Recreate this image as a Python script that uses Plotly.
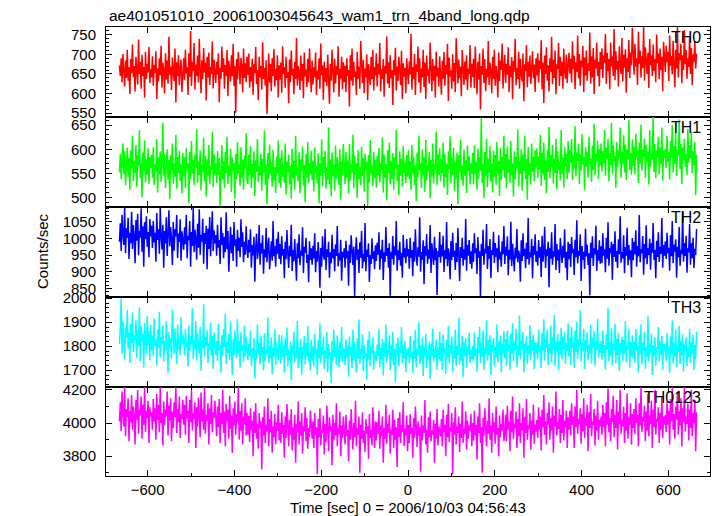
import numpy as np
import plotly.graph_objects as go
from plotly.subplots import make_subplots

TITLE = "ae401051010_20061003045643_wam1_trn_4band_long.qdp"
X_TITLE = "Time [sec] 0 = 2006/10/03 04:56:43"
Y_TITLE = "Counts/sec"
band_names = ["TH0", "TH1", "TH2", "TH3", "TH0123"]
colors = ["#ff0000", "#00ff00", "#0000ff", "#00ffff", "#ff00ff"]
t_first, t_last = -665, 665

th0 = [
672,645,690,628,701,655,618,684,640,712,633,667,598,688,652,725,641,670,605,694,660,623,738,650,681,612,699,645,668,590,707,638,676,654,719,627,662,
641,695,620,673,652,708,586,664,631,690,647,722,615,679,658,600,703,636,684,625,745,648,669,609,692,655,632,715,577,680,644,698,621,663,687,604,676,
690,634,712,651,668,596,703,642,760,619,681,657,729,610,674,645,697,628,740,662,601,685,637,716,654,679,582,694,641,705,622,668,650,733,613,686,659,
627,681,649,702,578,666,638,720,655,690,612,673,645,711,593,684,660,630,698,644,727,619,670,551,688,636,706,652,624,691,668,603,715,640,677,629,694,
648,702,615,668,631,689,597,675,652,719,624,660,583,694,641,670,610,731,637,666,620,685,548,659,702,628,676,605,690,645,714,618,663,634,698,590,672,
636,679,602,721,650,668,615,694,640,655,575,687,629,710,646,663,598,681,637,742,620,670,652,609,697,633,676,588,705,644,661,617,689,628,715,651,603,
684,623,667,641,705,597,658,636,690,612,728,647,672,584,681,630,665,619,699,642,574,676,633,712,655,603,689,626,670,648,721,592,663,638,694,611,680,
629,671,604,690,645,660,567,698,633,715,620,681,642,656,596,707,638,669,612,734,649,627,686,601,664,641,700,583,675,656,622,693,637,711,608,668,646,
703,618,676,649,729,605,662,637,688,592,671,651,746,626,680,614,698,639,660,571,685,647,717,608,669,632,694,655,621,709,586,677,643,665,601,690,658,
624,682,649,753,610,668,637,701,596,675,655,720,628,690,602,664,641,712,617,679,586,697,646,661,625,730,650,606,688,633,671,590,707,643,666,618,695,
661,597,684,638,706,620,673,649,727,581,692,644,659,612,700,631,678,603,741,655,626,687,640,669,593,711,647,622,682,636,698,609,664,650,724,615,676,
642,689,614,720,653,598,681,636,702,559,670,648,715,627,688,606,663,641,734,622,679,655,601,694,638,712,620,671,649,590,705,632,684,660,728,613,667,
699,627,676,648,718,603,670,642,693,586,684,656,740,621,665,637,707,612,689,650,631,702,580,675,658,724,616,681,643,697,625,662,708,639,674,604,690,
647,703,628,684,662,736,611,679,576,697,650,718,633,672,605,690,656,745,624,686,640,710,598,675,663,729,619,694,645,681,612,715,657,638,699,627,672,
704,651,689,628,733,662,697,611,680,655,748,639,701,620,684,667,722,604,692,646,710,633,677,658,756,625,695,641,716,599,687,664,730,645,681,618,706,
662,715,640,697,678,752,625,704,657,688,611,730,669,695,645,765,634,708,661,683,618,721,674,650,742,631,699,666,713,602,690,655,737,640,705,672,768,
701,648,727,669,690,622,758,676,710,641,695,665,770,633,718,682,650,704,614,739,672,697,645,725,658,688,629,751,677,702,637,715,660,694,606,732,683,
655,722,680,707,632,748,671,696,649,735,690,616,712,664,770,641,703,685,727,626,698,660,762,675,711,638,690,668,745,650,716,621,700,681,733,664,702,
]
th1 = [
552,590,538,577,612,549,596,525,570,603,543,582,515,598,560,628,534,575,551,609,522,587,566,640,540,571,500,593,555,618,531,579,547,602,528,584,561,
588,541,604,526,569,553,621,510,583,548,596,532,574,655,545,590,519,566,600,537,578,496,588,557,612,529,571,543,630,518,584,550,597,534,569,508,592,
545,583,520,602,556,571,488,594,538,617,549,577,526,589,562,641,530,575,547,598,515,568,553,624,533,586,502,579,544,609,527,566,558,636,521,590,548,
571,530,597,546,582,482,563,609,537,575,519,594,550,626,528,566,544,601,511,583,556,572,497,590,538,615,549,568,524,604,541,579,516,587,560,633,535,
528,589,547,606,519,570,541,596,503,577,553,621,532,564,545,590,514,580,551,639,526,569,485,592,538,610,548,573,522,599,535,563,509,585,550,618,530,
581,520,598,543,567,530,612,506,574,552,589,527,565,497,601,540,576,516,628,546,562,533,594,508,579,555,606,524,568,490,590,541,615,529,571,548,597,
536,575,512,604,548,566,529,592,488,571,545,620,523,584,550,597,518,562,537,645,527,579,502,593,544,568,515,608,539,583,553,526,600,495,574,546,611,
564,528,594,541,577,508,611,535,569,552,630,519,587,546,572,499,598,538,563,525,605,544,581,512,591,557,574,482,588,531,619,549,566,523,595,540,578,
520,586,546,603,531,572,557,625,510,589,541,569,494,598,550,614,527,575,539,592,516,583,560,640,534,568,505,596,545,580,522,607,551,573,530,588,543,
598,538,575,515,609,549,584,526,566,492,593,542,628,557,571,520,600,546,583,511,619,535,567,553,594,498,578,544,612,529,570,558,637,525,589,547,602,
533,579,551,614,520,590,542,570,505,596,558,627,530,581,547,603,514,574,539,593,486,588,552,619,536,566,524,599,545,577,509,608,555,585,527,571,549,
592,527,608,548,574,516,601,539,583,555,665,530,569,498,594,545,622,521,580,551,606,533,571,510,597,543,588,526,615,549,576,503,603,537,584,557,628,
541,590,519,606,552,579,530,617,547,571,502,596,537,584,560,641,523,576,549,600,514,589,555,628,538,580,495,605,546,571,527,612,553,585,533,598,562,
602,541,585,559,630,524,593,548,614,536,577,508,599,553,646,540,588,562,609,529,580,551,622,517,596,557,574,535,640,549,583,520,605,564,590,538,617,
550,598,572,621,536,587,560,648,544,593,575,612,528,589,556,631,569,584,515,604,563,595,541,626,570,581,532,607,557,653,546,590,574,618,538,600,566,
612,554,596,571,640,545,603,580,622,533,591,567,655,549,608,575,586,520,615,562,599,583,645,541,594,570,629,552,610,536,600,578,660,557,592,547,620,
566,605,548,632,583,597,530,614,570,651,556,600,585,622,541,609,574,595,527,640,562,590,579,667,553,611,540,598,584,626,548,603,569,645,535,598,582,
600,561,628,575,594,537,617,583,650,552,606,570,634,544,598,587,662,559,611,528,604,577,622,563,590,546,642,572,608,581,637,550,596,567,615,505,588,
]
th2 = [
990,1045,962,1071,1012,980,1094,955,1030,1001,1062,938,1017,985,1080,968,1040,1008,925,1055,993,1074,949,1023,1002,1090,960,1036,915,1048,997,1066,975,1019,943,1058,1006,
1038,971,1052,988,1017,930,1076,995,1028,954,1094,1003,967,1041,912,1022,985,1063,947,1010,1084,976,1034,998,920,1049,963,1027,1006,1070,941,1015,989,1057,933,1021,1000,
966,1033,982,1071,940,1008,995,1052,915,1019,977,1094,958,1026,1001,936,1044,972,1087,951,1011,990,1059,924,1016,983,1038,907,1029,968,1064,946,1003,1081,961,1024,985,
1010,948,1041,972,995,923,1063,980,1016,940,1005,958,1078,967,1022,900,988,1035,955,1011,932,1049,977,997,915,1026,962,1002,943,1057,974,1018,928,990,951,1036,969,
941,996,958,1027,912,980,949,1005,870,973,1014,938,962,1040,921,985,955,1009,894,967,943,1031,928,978,1002,907,960,991,933,1052,946,976,915,999,954,1020,938,
983,922,1006,948,968,880,990,937,1025,955,911,978,946,1041,902,965,931,998,952,873,985,940,1012,919,963,948,1033,896,975,957,1002,926,951,868,991,935,970,
921,978,940,1015,898,962,930,989,946,852,971,915,1006,950,936,1028,905,967,944,990,882,958,925,1011,940,968,901,982,947,1037,916,955,934,996,873,960,942,
970,912,993,940,962,858,981,926,1009,947,920,975,826,958,1003,935,967,896,988,942,1022,910,953,930,1046,901,966,944,985,869,950,923,1000,938,961,907,979,
932,987,951,1018,906,966,940,996,875,958,929,1034,947,971,912,985,828,960,938,1007,921,976,949,1052,903,964,935,990,918,957,882,1011,943,970,925,998,946,
968,909,1002,941,965,886,990,930,1027,952,918,973,945,1063,900,959,936,994,862,977,948,1013,924,966,939,1040,896,985,952,920,1005,934,970,830,962,944,1019,
927,981,946,1008,899,964,938,1049,916,970,952,877,992,935,1017,944,963,905,986,929,1031,950,872,974,941,1002,918,967,936,1058,903,980,948,995,924,961,909,
985,930,1015,956,970,893,1004,941,961,827,983,947,1026,921,969,955,1043,908,977,939,998,881,964,950,1020,926,986,945,970,898,1009,937,960,915,991,952,1037,
923,975,948,1006,889,966,936,1050,917,984,955,901,972,940,1028,928,963,950,870,994,932,1015,946,969,910,987,938,1061,921,958,944,999,880,977,951,1012,929,
962,918,995,942,974,884,1008,930,956,1035,911,967,947,990,853,972,939,1018,921,961,945,1043,905,983,934,966,896,1001,950,926,978,942,1027,912,960,874,990,
937,983,914,1004,956,969,890,996,943,1054,925,962,948,1012,872,977,935,960,908,1029,946,981,920,955,829,987,941,1006,917,970,952,1038,903,965,933,994,924,
976,925,1015,948,967,898,1002,939,1048,918,971,955,990,876,983,944,1021,930,962,911,997,952,1066,927,959,940,1009,895,974,948,1032,919,980,936,964,883,1001,
934,990,952,1024,915,977,946,1070,928,968,956,1007,891,983,940,1039,922,971,950,999,906,986,957,1046,935,966,880,993,944,1018,929,975,953,1061,912,980,948,
991,938,1017,955,972,903,1009,946,1052,925,981,960,997,882,975,943,1034,918,966,952,1080,930,986,947,1008,897,970,958,1043,921,985,940,1002,911,969,950,1028,
]
th3 = [
1810,1875,2000,1768,1902,1820,1745,1880,1835,1950,1790,1857,1730,1893,1812,1940,1776,1848,1825,1910,1752,1866,1800,1962,1738,1883,1819,1851,1710,1897,1830,1771,1925,1806,1862,1742,1888,
1785,1846,1760,1915,1802,1829,1720,1868,1794,1943,1753,1838,1811,1886,1735,1822,1778,1905,1808,1690,1859,1790,1833,1748,1952,1815,1769,1874,1800,1727,1890,1786,1840,1762,1921,1807,1849,
1830,1762,1871,1795,1818,1715,1886,1779,1842,1810,1958,1748,1826,1788,1904,1740,1853,1804,1769,1880,1698,1822,1792,1975,1757,1837,1801,1866,1730,1814,1785,1898,1760,1845,1706,1858,1790,
1765,1822,1738,1893,1781,1806,1690,1845,1760,1872,1797,1935,1725,1815,1772,1850,1744,1903,1786,1680,1831,1763,1866,1797,1750,1912,1770,1820,1711,1858,1782,1804,1735,1884,1757,1839,1801,
1742,1809,1760,1865,1718,1790,1752,1834,1665,1781,1746,1890,1770,1812,1724,1846,1763,1797,1700,1855,1739,1786,1768,1920,1731,1801,1750,1837,1683,1794,1758,1871,1722,1815,1777,1740,1849,
1790,1727,1846,1754,1802,1690,1833,1761,1878,1715,1785,1742,1817,1657,1806,1766,1860,1733,1779,1750,1905,1708,1792,1745,1830,1681,1798,1763,1842,1724,1812,1756,1885,1737,1770,1699,1826,
1741,1800,1716,1851,1772,1789,1680,1826,1750,1896,1730,1794,1765,1838,1705,1781,1748,1860,1692,1808,1759,1774,1647,1822,1738,1870,1756,1798,1721,1845,1769,1712,1815,1745,1880,1733,1790,
1785,1721,1829,1752,1802,1673,1840,1763,1795,1709,1867,1740,1817,1756,1690,1833,1748,1911,1726,1788,1762,1850,1697,1805,1751,1772,1660,1826,1744,1862,1717,1799,1768,1836,1702,1780,1755,
1738,1807,1760,1873,1712,1792,1745,1830,1678,1815,1755,1890,1732,1784,1766,1846,1700,1803,1741,1859,1722,1790,1650,1812,1758,1835,1717,1796,1770,1881,1728,1806,1749,1822,1693,1787,1763,
1795,1730,1842,1751,1778,1689,1823,1746,1866,1711,1790,1762,1900,1725,1804,1741,1836,1676,1799,1757,1851,1708,1783,1744,1818,1663,1809,1760,1874,1734,1786,1753,1829,1701,1795,1747,1860,
1737,1811,1702,1848,1766,1790,1684,1827,1753,1885,1728,1806,1771,1839,1695,1782,1749,1870,1718,1801,1763,1918,1724,1792,1740,1844,1672,1815,1759,1833,1710,1798,1767,1856,1731,1784,1746,
1801,1736,1857,1759,1790,1694,1838,1772,1881,1729,1812,1755,1865,1701,1794,1768,1908,1740,1826,1762,1847,1680,1805,1777,1834,1715,1799,1753,1890,1733,1819,1761,1846,1690,1808,1770,1862,
1750,1829,1718,1866,1781,1805,1700,1852,1769,1896,1738,1817,1782,1873,1712,1800,1763,1928,1745,1822,1788,1859,1690,1811,1774,1840,1727,1803,1766,1887,1741,1826,1779,1848,1704,1815,1770,
1815,1746,1870,1776,1803,1708,1855,1783,1912,1740,1828,1794,1868,1722,1810,1770,1885,1732,1837,1786,1930,1716,1819,1779,1852,1700,1823,1765,1877,1745,1840,1789,1860,1726,1814,1781,1895,
1757,1836,1722,1880,1794,1817,1710,1864,1776,1901,1748,1829,1799,1950,1735,1812,1781,1873,1704,1825,1790,1858,1741,1806,1771,1889,1727,1834,1796,1863,1719,1820,1785,1914,1752,1809,1773,
1822,1744,1865,1771,1805,1703,1850,1787,1960,1738,1815,1760,1877,1720,1809,1782,1893,1729,1831,1764,1856,1697,1812,1775,1840,1740,1826,1768,1905,1733,1800,1785,1869,1710,1818,1757,1846,
1749,1818,1731,1872,1783,1800,1690,1846,1767,1890,1724,1813,1779,1861,1706,1795,1756,1925,1738,1808,1773,1852,1680,1804,1762,1838,1719,1796,1787,1880,1736,1821,1765,1843,1701,1809,1777,
1810,1739,1855,1764,1797,1688,1840,1770,1907,1728,1812,1758,1868,1712,1799,1775,1884,1726,1823,1763,1850,1695,1808,1781,1836,1718,1792,1754,1873,1730,1815,1769,1848,1700,1806,1745,1860,
]
th0123 = [
4010,4125,3950,4190,4060,3980,4218,3920,4085,4035,4150,3890,4070,4005,4170,3960,4100,4045,3870,4140,4020,4200,3935,4080,4050,4160,3905,4110,3990,4218,3945,4075,4030,4135,3880,4095,4040,
4065,3960,4145,4010,4090,3900,4175,4020,4110,3945,4218,4000,4060,3865,4130,3985,4080,4040,4190,3925,4105,4015,4150,3890,4070,3970,4125,4035,4218,3940,4085,4005,4160,3910,4055,4025,4140,
3990,4110,3930,4165,4030,4075,3880,4140,4005,4200,3955,4060,4025,4125,3850,4095,3980,4155,4040,3915,4185,4010,4080,3960,4218,3935,4050,4015,4120,3870,4090,3995,4170,3945,4065,4030,4135,
4035,3920,4100,3975,4145,3880,4060,3995,4200,3940,4070,3860,4115,4010,4080,3905,4165,3965,4045,3820,4090,3985,4130,3930,4055,4005,4218,3900,4075,3955,4120,3870,4040,3990,4150,3925,4060,
3930,4045,3885,4090,3960,4015,3800,4070,3940,4120,3905,3995,3845,4060,3970,4010,3720,4035,3925,4100,3880,3990,3950,4150,3860,4025,3945,4075,3820,3980,3915,4055,3870,4005,3955,4110,3895,
4000,3880,4065,3935,3990,3790,4040,3910,4115,3955,3860,4020,3930,4085,3835,3975,3900,4050,3760,3995,3945,4130,3870,4010,3925,4060,3815,3980,3950,4095,3890,4030,3845,3970,3915,4075,3940,
3905,4010,3850,4060,3930,3975,3690,4025,3915,4090,3865,3960,3940,4045,3810,3995,3885,4105,3920,3830,4035,3955,3980,3745,4050,3895,4000,3925,4120,3860,3970,3935,4070,3800,3985,3910,4040,
3980,3870,4050,3920,3960,3770,4015,3900,4085,3945,3840,4000,3915,4135,3860,3970,3930,4040,3700,3990,3905,4065,3880,3955,3825,4025,3935,3980,3785,4055,3910,3960,3865,4095,3925,3850,4010,
3895,4005,3935,4075,3845,3985,3920,4040,3760,3970,3905,4110,3875,3995,3940,4050,3815,3960,3930,4080,3850,4020,3900,3975,3735,4030,3915,4065,3880,3990,3945,4125,3860,3965,3925,4045,3830,
3990,3880,4055,3935,3970,3790,4030,3910,4100,3950,3855,4010,3925,3975,3705,4045,3895,3985,3940,4140,3870,3960,3820,4035,3915,4070,3890,3955,3930,4020,3760,3995,3905,4085,3865,3980,3945,
3920,4025,3860,4080,3945,3990,3800,4050,3915,4115,3885,3975,3950,4060,3690,4005,3930,4095,3870,3980,3940,4040,3825,3995,3910,4130,3880,3965,3935,4070,3840,4015,3905,3985,3955,4055,3860,
4000,3895,4075,3925,3990,3780,4040,3940,4120,3880,3975,3700,4030,3920,4090,3950,3860,4015,3935,4150,3900,3985,3820,4060,3945,4005,3875,4100,3930,3970,3800,4045,3915,3995,3955,4080,3890,
3935,4050,3890,4105,3960,4010,3830,4075,3945,4160,3905,3995,3970,4070,3850,4025,3920,4120,3880,4000,3955,4090,3790,4035,3940,4145,3900,3985,3965,4060,3840,4015,3930,4110,3875,3990,3950,
4020,3910,4095,3960,4040,3835,4080,3975,4170,3930,4010,3870,4060,3990,4125,3900,4030,3955,4100,3820,4045,3980,4190,3925,4005,3965,4085,3880,4050,3940,4140,3895,4015,3975,4075,3850,4035,
3960,4075,3925,4120,3990,4040,3850,4100,3975,4200,3935,4025,3995,4090,3875,4055,3950,4150,3910,4030,3985,4110,3830,4065,3970,4175,3920,4010,3990,4085,3865,4045,3955,4135,3900,4020,3980,
4040,3930,4110,3975,4060,3860,4125,3990,4210,3945,4030,3890,4085,4005,4165,3915,4050,3970,4140,3840,4070,3995,4200,3935,4020,3980,4100,3880,4060,3955,4180,3905,4035,3990,4120,3870,4055,
3970,4085,3935,4150,4000,4050,3860,4120,3985,4218,3945,4035,4010,4105,3890,4070,3955,4175,3920,4045,3995,4135,3850,4080,3975,4200,3930,4025,4005,4095,3880,4060,3960,4160,3910,4040,3990,
4050,3945,4130,3990,4075,3870,4145,4010,4218,3960,4055,3905,4100,4020,4185,3930,4070,3985,4150,3860,4090,4005,4218,3950,4040,3995,4120,3895,4080,3970,4200,3920,4060,4000,4140,3830,4065,
]
series = [th0, th1, th2, th3, th0123]

y_ranges = [[540, 770], [480, 667], [824, 1094], [1630, 2005], [3680, 4218]]
y_dticks = [50, 50, 50, 100, 200]
y_minor = [10, 10, 10, 20, 100]
x_range = [-696, 696]

# pixel geometry
W, H = 717, 516
L, R, T, B = 106, 7, 27, 40
PW, PH = W - L - R, H - T - B


def px(x):
    return (x - L) / PW


def py(y):
    return (H - B - y) / PH


FONT = "Liberation Sans, Arial, Helvetica, sans-serif"

fig = make_subplots(rows=5, cols=1, shared_xaxes=True, vertical_spacing=0)

for i, (vals, col) in enumerate(zip(series, colors)):
    t = np.linspace(t_first, t_last, len(vals))
    fig.add_trace(
        go.Scatter(x=t, y=vals, mode="lines", line=dict(color=col, width=1.5), showlegend=False),
        row=i + 1, col=1,
    )

bounds = [27, 117, 207, 297, 387, 476]
for i in range(5):
    top, bot = bounds[i], bounds[i + 1]
    dom = [py(bot), py(top)]
    yname = "yaxis" if i == 0 else f"yaxis{i+1}"
    xname = "xaxis" if i == 0 else f"xaxis{i+1}"
    fig.layout[yname].update(
        domain=dom, range=y_ranges[i], dtick=y_dticks[i], tick0=0,
        ticks="inside", ticklen=6, tickwidth=1, tickcolor="black",
        minor=dict(dtick=y_minor[i], ticks="inside", ticklen=3, tickcolor="black", tickwidth=1, showgrid=False),
        showline=True, linecolor="black", linewidth=1, mirror="allticks",
        showgrid=False, zeroline=False,
        tickfont=dict(family=FONT, size=15, color="black"),
        ticklabelstandoff=6,
    )
    fig.layout[xname].update(
        range=x_range, dtick=200, tick0=0,
        ticks="inside", ticklen=6, tickwidth=1, tickcolor="black",
        minor=dict(dtick=100, ticks="inside", ticklen=3, tickcolor="black", tickwidth=1, showgrid=False),
        showline=True, linecolor="black", linewidth=1, mirror="allticks",
        showgrid=False, zeroline=False,
        showticklabels=(i == 4),
        tickfont=dict(family=FONT, size=15, color="black"),
    )
    fig.add_annotation(
        x=px(703), y=py(top + 10.5), xref="paper", yref="paper",
        text=band_names[i], showarrow=False, xanchor="right", yanchor="middle",
        font=dict(family=FONT, size=16, color="black"),
    )

fig.add_annotation(x=px(107), y=py(15), xref="paper", yref="paper", text=TITLE,
                   showarrow=False, xanchor="left", yanchor="middle",
                   font=dict(family=FONT, size=15.5, color="black"))
fig.add_annotation(x=px(42), y=py(251), xref="paper", yref="paper", text=Y_TITLE,
                   showarrow=False, xanchor="center", yanchor="middle", textangle=-90,
                   font=dict(family=FONT, size=15, color="black"))
fig.add_annotation(x=px(408), y=py(507), xref="paper", yref="paper", text=X_TITLE,
                   showarrow=False, xanchor="center", yanchor="middle",
                   font=dict(family=FONT, size=15, color="black"))

fig.update_layout(
    width=W, height=H,
    margin=dict(l=L, r=R, t=T, b=B, pad=0),
    plot_bgcolor="white", paper_bgcolor="white",
    showlegend=False,
)

fig.write_html(
    "out.html",
    config={"displayModeBar": False},
    post_script="document.body.style.margin='0px';document.body.style.overflow='hidden';",
)
